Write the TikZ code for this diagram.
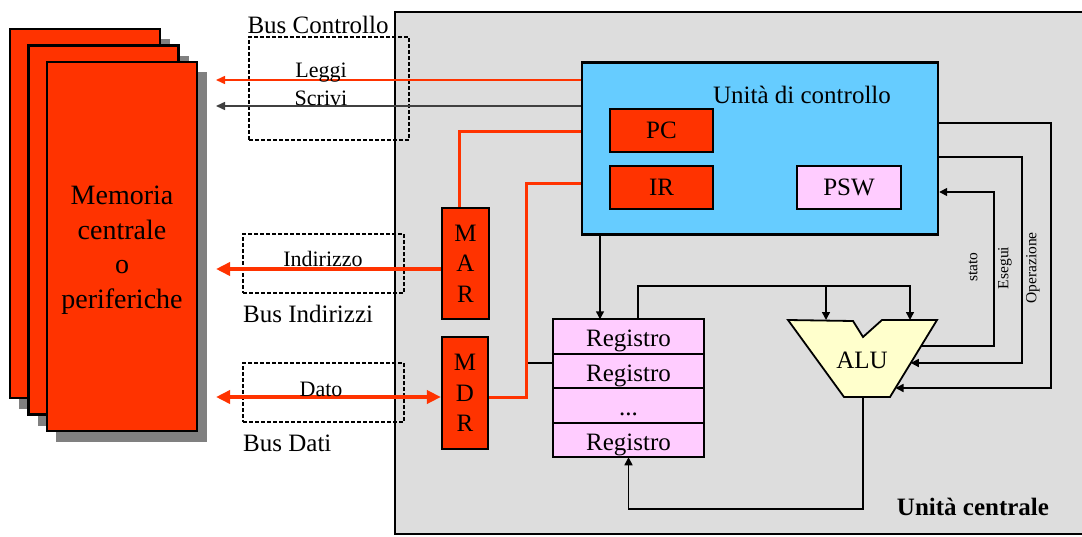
\documentclass[tikz,border=0pt]{standalone}
\usepackage{fontspec}
\setmainfont{Liberation Serif}
\usepackage{tikz}
\usetikzlibrary{arrows.meta,positioning,calc}
\definecolor{memred}{HTML}{FF3300}
\definecolor{cublue}{HTML}{66CCFF}
\definecolor{regpink}{HTML}{FFCCFF}
\definecolor{aluyellow}{HTML}{FFFFCC}
\definecolor{cpugray}{HTML}{DDDDDD}
\definecolor{shadowgray}{HTML}{808080}
\definecolor{wiregray}{HTML}{404040}
\tikzset{
	memory/.style={
		draw=black, line width=2.6pt, fill=memred
	},
	%
	memshadow/.style={
		fill=shadowgray
	},
	%
	busbox/.style={
		rectangle, draw=black, line width=1.4pt, dash pattern=on 4pt off 2pt,
		inner sep=0pt
	},
	%
	unit/.style={
		rectangle, draw=black, line width=2.4pt, fill=cublue, inner sep=0pt
	},
	%
	register/.style={
		rectangle, draw=black, line width=2.2pt, fill=memred, inner sep=0pt,
		font=\fontsize{25}{30}\selectfont
	},
	%
	pswbox/.style={
		register, fill=regpink
	},
	%
	regrow/.style={
		rectangle, draw=black, line width=2pt, fill=regpink, inner sep=0pt,
		outer sep=0pt, minimum width=151pt, minimum height=34.5pt,
		text height=20pt, text depth=0pt,
		font=\fontsize{25}{30}\selectfont
	},
	%
	alushape/.style={
		draw=black, line width=1.8pt, fill=aluyellow, line join=miter
	},
	%
	bigtext/.style={inner sep=0pt, font=\fontsize{25}{30}\selectfont},
	smalltext/.style={inner sep=0pt, font=\fontsize{22}{26}\selectfont},
	tinytext/.style={inner sep=0pt, font=\fontsize{15.5}{18}\selectfont},
	%
	sig/.style={draw=black, line width=1.5pt},
	sigarrow/.style={sig, -{Triangle[length=8pt,width=8pt]}},
	redbus/.style={draw=memred, line width=3pt},
	bigarrow/.style={draw=memred, line width=4pt, -{Triangle[length=14pt,width=13pt]}}
}

\begin{document}
\begin{tikzpicture}[x=1pt,y=-1pt]
\useasboundingbox (0,0) rectangle (1082,536);

%unita centrale
\fill[cpugray] (395,12) rectangle (1082,534);
\draw[line width=2.4pt] (1082,12) -- (395,12) -- (395,534) -- (1082,534);
\node (uc) [bigtext, font=\fontsize{25}{30}\selectfont\bfseries] at (973,507) {Unità centrale};

%memoria
\foreach \x/\y in {10/29,28.5/45.5,47/62}{
	\fill[memshadow] (\x+9,\y+10) rectangle (\x+160,\y+380);
	\draw[memory] (\x,\y) rectangle (\x+150,\y+369);
}
\node (mem) [align=center, inner sep=0pt, font=\fontsize{28}{34.5}\selectfont] at (122,250) {Memoria\\centrale\\o\\periferiche};

%bus
\node (bc) [busbox, minimum width=160pt, minimum height=103pt] at (329,88.5) {};
\node (bi) [busbox, minimum width=161pt, minimum height=59pt] at (323.5,263.5) {};
\node (bd) [busbox, minimum width=161pt, minimum height=59pt] at (323.5,392.5) {};
\node (bclabel) [bigtext, anchor=base] at (318,33) {Bus Controllo};
\node (bilabel) [bigtext, anchor=base west] at (243,322) {Bus Indirizzi};
\node (bdlabel) [bigtext, anchor=base west] at (243,451) {Bus Dati};

%unita di controllo
\node (cu) [unit, minimum width=356pt, minimum height=172pt] at (760,148.5) {};
\node (cutitle) [bigtext, anchor=base] at (802,103) {Unità di controllo};
\node (pc) [register, minimum width=103pt, minimum height=43pt] at (661.5,130.5) {PC};
\node (ir) [register, minimum width=103pt, minimum height=43pt] at (661.5,187.5) {IR};
\node (psw) [pswbox, minimum width=104pt, minimum height=43pt] at (849,187.5) {PSW};

%MAR e MDR
\node (mar) [register, minimum width=47pt, minimum height=111pt, align=center,
	font=\fontsize{25}{30.5}\selectfont] at (465.5,263.5) {M\\A\\R};
\node (mdr) [register, minimum width=46pt, minimum height=112pt, align=center,
	font=\fontsize{25}{30.5}\selectfont] at (465,393) {M\\D\\R};

%registri
\node (r1) [regrow] at (628.5,336.5) {Registro};
\node (r2) [regrow, below=0pt of r1] {Registro};
\node (r3) [regrow, below=0pt of r2] {...};
\node (r4) [regrow, below=0pt of r3] {Registro};

%ALU
\coordinate (aluTL) at (788,320);
\coordinate (aluN1) at (853,321);
\coordinate (aluN2) at (863,337);
\coordinate (aluN3) at (882,320);
\coordinate (aluTR) at (937,320);
\coordinate (aluBR) at (890,397);
\coordinate (aluBL) at (844,397);
\draw[alushape] (aluTL) -- (aluN1) -- (aluN2) -- (aluN3) -- (aluTR) -- (aluBR) -- (aluBL) -- cycle;
\node (alu) [bigtext] at (862,360) {ALU};

%arrows
\coordinate (memL) at (216,80);
\coordinate (memS) at (216,106);
\draw[draw=memred, line width=1.5pt, -{Triangle[length=9pt,width=8pt]}] (cu.west |- memL) -- (memL);
\draw[draw=wiregray, line width=1.5pt, -{Triangle[length=9pt,width=8pt]}] (cu.west |- memS) -- (memS);
\node (leggi) [smalltext, anchor=base] at (321,77) {Leggi};
\node (scrivi) [smalltext, anchor=base] at (321,105) {Scrivi};

\coordinate (memI) at (216,269);
\coordinate (memD) at (216,397);
\draw[bigarrow] (mar.west |- memI) -- (memI);
\draw[bigarrow, {Triangle[length=14pt,width=13pt]}-{Triangle[length=14pt,width=13pt]}] (memD) -- (mdr.west |- memD);
\node (ind) [smalltext, anchor=base] at (323,266) {Indirizzo};
\node (dato) [smalltext, anchor=base] at (321,396) {Dato};

\coordinate (pcbus) at (459,131);
\coordinate (irbus) at (526,183);
\coordinate (mdrbus) at (526,397);
\coordinate (regtap) at (526,363);
\draw[sig] (regtap) -- (regtap -| r1.west);
\draw[redbus] (cu.west |- pcbus) -- (pcbus) -- (pcbus |- mar.north);
\draw[redbus] (cu.west |- irbus) -- (irbus) -- (mdrbus) -- (mdr.east |- mdrbus);

\coordinate (cutap) at (600,0);
\draw[sigarrow] (cu.south -| cutap) -- (r1.north -| cutap);

\coordinate (alubus) at (638,286);
\coordinate (inA) at (826,320);
\coordinate (inB) at (910,320);
\draw[sigarrow] (r1.north -| alubus) |- (inB |- alubus) -- (inB);
\draw[sigarrow] (inA |- alubus) -- (inA);

\coordinate (opIn) at ($(aluTR)!0.883!(aluBR)$);
\coordinate (esIn) at ($(aluTR)!0.558!(aluBR)$);
\coordinate (stOut) at ($(aluTR)!0.338!(aluBR)$);
\coordinate (opLine) at (1051,123);
\coordinate (esLine) at (1022,157);
\coordinate (stLine) at (994,192);
\draw[sigarrow] (cu.east |- opLine) -- (opLine) |- (opIn);
\draw[sigarrow] (cu.east |- esLine) -- (esLine) |- (esIn);
\draw[sigarrow] (stOut) -| (stLine) -- (cu.east |- stLine);
\node (stato) [tinytext, rotate=90] at (973,267) {stato};
\node (esegui) [tinytext, rotate=90] at (1005,268) {Esegui};
\node (oper) [tinytext, rotate=90] at (1033,268) {Operazione};

\coordinate (aluout) at (863,509);
\draw[sigarrow] (aluBL -| aluout) -- (aluout) -| (r4.south);

\end{tikzpicture}
\end{document}
